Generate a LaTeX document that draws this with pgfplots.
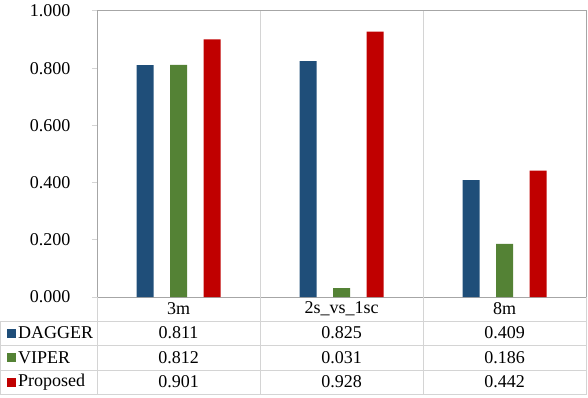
\documentclass[border=0pt]{standalone}
\usepackage{fontspec}
\setmainfont{Liberation Serif}
\usepackage{pgfplots}
\pgfplotsset{compat=1.18}
\definecolor{dagger}{HTML}{1F4E79}
\definecolor{viper}{HTML}{548235}
\definecolor{proposed}{HTML}{C00000}
\definecolor{gridc}{HTML}{D4D4D4}
\definecolor{axc}{HTML}{A6A6A6}
\begin{document}
\begin{tikzpicture}[x=1pt,y=1pt,font=\fontsize{18}{21}\selectfont]
\path[use as bounding box] (0,0) rectangle (588,-398);
\begin{axis}[
  at={(97pt,-297pt)}, anchor=south west,
  scale only axis, width=489pt, height=286pt,
  ybar=16.5pt, bar width=17pt,
  xmin=-0.5, xmax=2.5, ymin=0, ymax=1,
  axis line style={axc, line width=1pt},
  xtick=\empty,
  extra x ticks={0.5,1.5}, extra x tick labels={},
  extra x tick style={grid=major, major grid style={gridc, line width=1pt}, major tick length=0pt},
  ytick={0,0.2,0.4,0.6,0.8,1},
  ytick style={gridc, line width=1pt},
  tick align=outside, major tick length=5pt,
  yticklabel style={xshift=-18pt, /pgf/number format/fixed, /pgf/number format/fixed zerofill,
    /pgf/number format/precision=3, /pgf/number format/assume math mode=true},
  ytick pos=left,
  clip=false,
]
\addplot[fill=dagger, draw=none] coordinates {(0,0.811) (1,0.825) (2,0.409)};
\addplot[fill=viper, draw=none] coordinates {(0,0.812) (1,0.031) (2,0.186)};
\addplot[fill=proposed, draw=none] coordinates {(0,0.901) (1,0.928) (2,0.442)};
\end{axis}
% data table below the plot
\begin{scope}[gridc, line width=1pt]
  \draw (0,-321) -- (586,-321);
  \draw (0,-345.5) -- (586,-345.5);
  \draw (0,-370) -- (586,-370);
  \draw (0,-394.5) -- (586,-394.5);
  \draw (0,-321) -- (0,-394.5);
  \draw (97,-297) -- (97,-394.5);
  \draw (260,-297) -- (260,-394.5);
  \draw (423,-297) -- (423,-394.5);
  \draw (586,-297) -- (586,-394.5);
\end{scope}
\node at (178.5,-309) {3m};
\node at (341.5,-309) {2s\_vs\_1sc};
\node at (504.5,-309) {8m};
\fill[dagger] (6.5,-328.5) rectangle (15.5,-337.5);
\fill[viper] (6.5,-353) rectangle (15.5,-362);
\fill[proposed] (6.5,-377.5) rectangle (15.5,-386.5);
\node[anchor=west, inner sep=0pt] at (18,-333) {DAGGER};
\node[anchor=west, inner sep=0pt] at (18,-357.5) {VIPER};
\node[anchor=west, inner sep=0pt] at (18,-382) {Proposed};
\node at (178.5,-333) {0.811};
\node at (341.5,-333) {0.825};
\node at (504.5,-333) {0.409};
\node at (178.5,-357.5) {0.812};
\node at (341.5,-357.5) {0.031};
\node at (504.5,-357.5) {0.186};
\node at (178.5,-382) {0.901};
\node at (341.5,-382) {0.928};
\node at (504.5,-382) {0.442};
\end{tikzpicture}
\end{document}
